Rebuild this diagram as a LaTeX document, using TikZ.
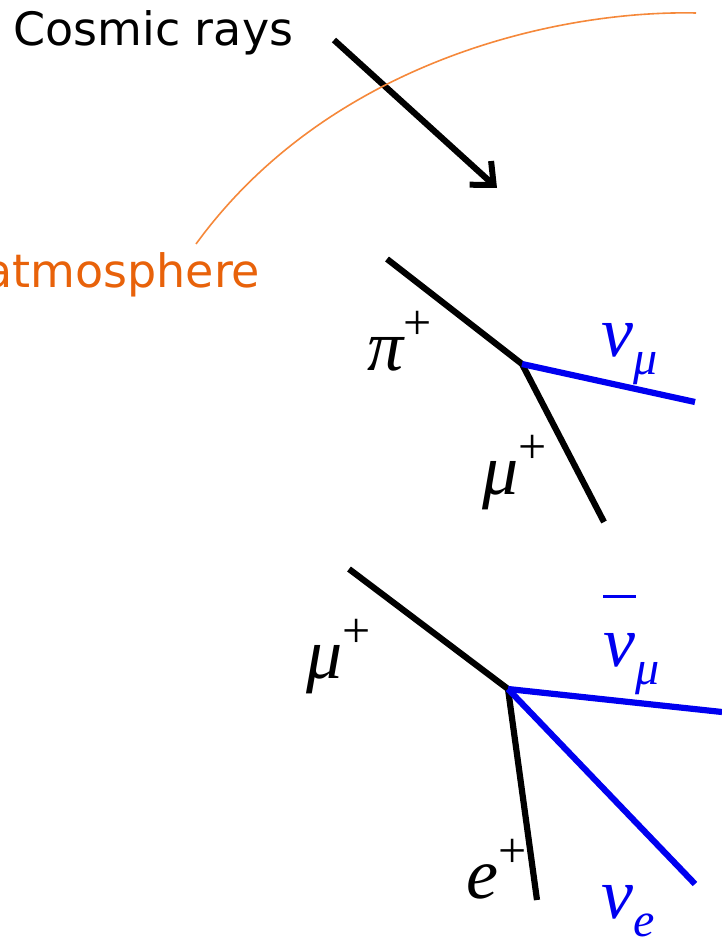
\documentclass[tikz,border=0pt]{standalone}
\usepackage{fontspec}
\setmainfont{DejaVu Sans}
\newfontfamily\tms{Liberation Serif}
\usetikzlibrary{arrows.meta}
\definecolor{atmo}{HTML}{F5883A}
\definecolor{atmotext}{HTML}{E8620A}
\definecolor{nublue}{HTML}{0000F0}
\newcommand{\supp}[1]{\raisebox{0.42em}{\fontsize{50}{50}\selectfont\upshape #1}}
\newcommand{\subb}[1]{\raisebox{-0.25em}{\fontsize{48}{48}\selectfont #1}}
\begin{document}
\begin{tikzpicture}[x=1pt,y=-1pt,
  track/.style={line width=6.2pt,black},
  nutrack/.style={line width=6.2pt,nublue},
  sym/.style={inner sep=0pt,anchor=base west,font=\tms\itshape\fontsize{72}{72}\selectfont},
  nusym/.style={sym,text=nublue},
  word/.style={inner sep=0pt,anchor=base west,font=\fontsize{46}{46}\selectfont}]
\useasboundingbox (0,0) rectangle (722,939);
% cosmic rays
\node[word] (cr) at (13,46) {Cosmic rays};
\coordinate (a0) at (334,40);
\coordinate (a1) at (497,188);
\draw[track,-{Straight Barb[length=18pt,width=32pt,line width=6pt]}] (a0) -- (a1);
% atmosphere
\coordinate (arcA) at (196,244);
\coordinate (arcB) at (696,13);
\draw[atmo,line width=1.6pt] (arcA) .. controls (330,60) and (560,10) .. (arcB);
\node[word,text=atmotext] (atm) at (-16,287) {atmosphere};
% pion decay
\coordinate (p0) at (387,259);
\coordinate (v1) at (522,364);
\coordinate (m1) at (604,522);
\coordinate (n1) at (695,402);
\draw[track] (p0) -- (v1) -- (m1);
\draw[nutrack] (v1) -- (n1);
\node[sym] (pi) at (367,370) {π\supp{+}};
\node[nusym] (num) at (601,356) {ν\subb{μ}};
\node[sym] (mu1) at (482,494) {μ\supp{+}};
% muon decay
\coordinate (q0) at (349,569);
\coordinate (v2) at (508,689);
\coordinate (e2) at (537,900);
\coordinate (n2) at (722,712);
\coordinate (n3) at (695,884);
\draw[track] (q0) -- (v2) -- (e2);
\draw[nutrack] (v2) -- (n2);
\draw[nutrack] (v2) -- (n3);
\node[sym] (mu2) at (306,678) {μ\supp{+}};
\node[nusym] (nbm) at (603,666) {\makebox[0pt][l]{\raisebox{0.95em}{\rule{0.45em}{0.04em}}}ν\subb{μ}};
\node[sym] (ep) at (466,898) {e\supp{+}};
\node[nusym] (nue) at (601,918) {ν\subb{e}};
\end{tikzpicture}
\end{document}
